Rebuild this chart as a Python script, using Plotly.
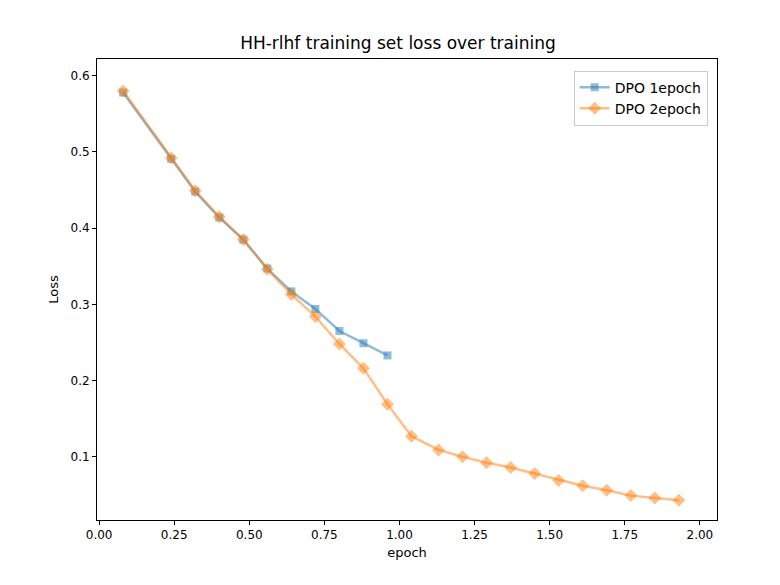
import plotly.graph_objects as go

# epoch positions and loss values
x_1ep = [0.08, 0.24, 0.32, 0.40, 0.48, 0.56, 0.64, 0.72, 0.80, 0.88, 0.96]
loss_1ep = [0.578, 0.491, 0.448, 0.414, 0.385, 0.347, 0.317, 0.294, 0.265, 0.249, 0.233]

x_2ep = [0.08, 0.24, 0.32, 0.40, 0.48, 0.56, 0.64, 0.72, 0.80, 0.88, 0.96,
         1.04, 1.13, 1.21, 1.29, 1.37, 1.45, 1.53, 1.61, 1.69, 1.77, 1.85, 1.93]
loss_2ep = [0.580, 0.492, 0.449, 0.415, 0.385, 0.346, 0.313, 0.284, 0.248, 0.216, 0.169,
            0.127, 0.109, 0.100, 0.092, 0.086, 0.078, 0.069, 0.062, 0.056, 0.049, 0.046, 0.043]

xticks = [0.0, 0.25, 0.5, 0.75, 1.0, 1.25, 1.5, 1.75, 2.0]
yticks = [0.1, 0.2, 0.3, 0.4, 0.5, 0.6]

fig = go.Figure()
fig.add_trace(go.Scatter(x=x_1ep, y=loss_1ep, name="DPO 1epoch", mode="lines+markers",
                         line=dict(color="rgba(31,119,180,0.5)", width=2.5),
                         marker=dict(symbol="square", size=8, color="rgba(31,119,180,0.5)")))
fig.add_trace(go.Scatter(x=x_2ep, y=loss_2ep, name="DPO 2epoch", mode="lines+markers",
                         line=dict(color="rgba(255,127,14,0.5)", width=2.5),
                         marker=dict(symbol="diamond", size=10, color="rgba(255,127,14,0.5)")))

axis_style = dict(showgrid=False, zeroline=False, showline=True, mirror=True, linecolor="black",
                  ticks="outside", ticklen=4, tickcolor="black", tickfont=dict(size=12, color="black"))
fig.update_layout(
    width=780, height=585, plot_bgcolor="white", paper_bgcolor="white",
    font=dict(family="DejaVu Sans", color="black"),
    title=dict(text="HH-rlhf training set loss over training", x=0.5, xanchor="center",
               y=0.95, font=dict(size=17)),
    margin=dict(l=89, r=71, t=51, b=73),
    xaxis=dict(title=dict(text="epoch", font=dict(size=13), standoff=6), range=[-0.007, 2.057],
               tickvals=xticks, ticktext=[f"{v:.2f}" for v in xticks], **axis_style),
    yaxis=dict(title=dict(text="Loss", font=dict(size=13), standoff=8), range=[0.017, 0.622],
               tickvals=yticks, ticktext=[f"{v:.1f}" for v in yticks], **axis_style),
    legend=dict(x=0.985, y=0.975, xanchor="right", yanchor="top", bgcolor="white",
                bordercolor="#cccccc", borderwidth=1, font=dict(size=14)),
)
fig.write_html("out.html")
